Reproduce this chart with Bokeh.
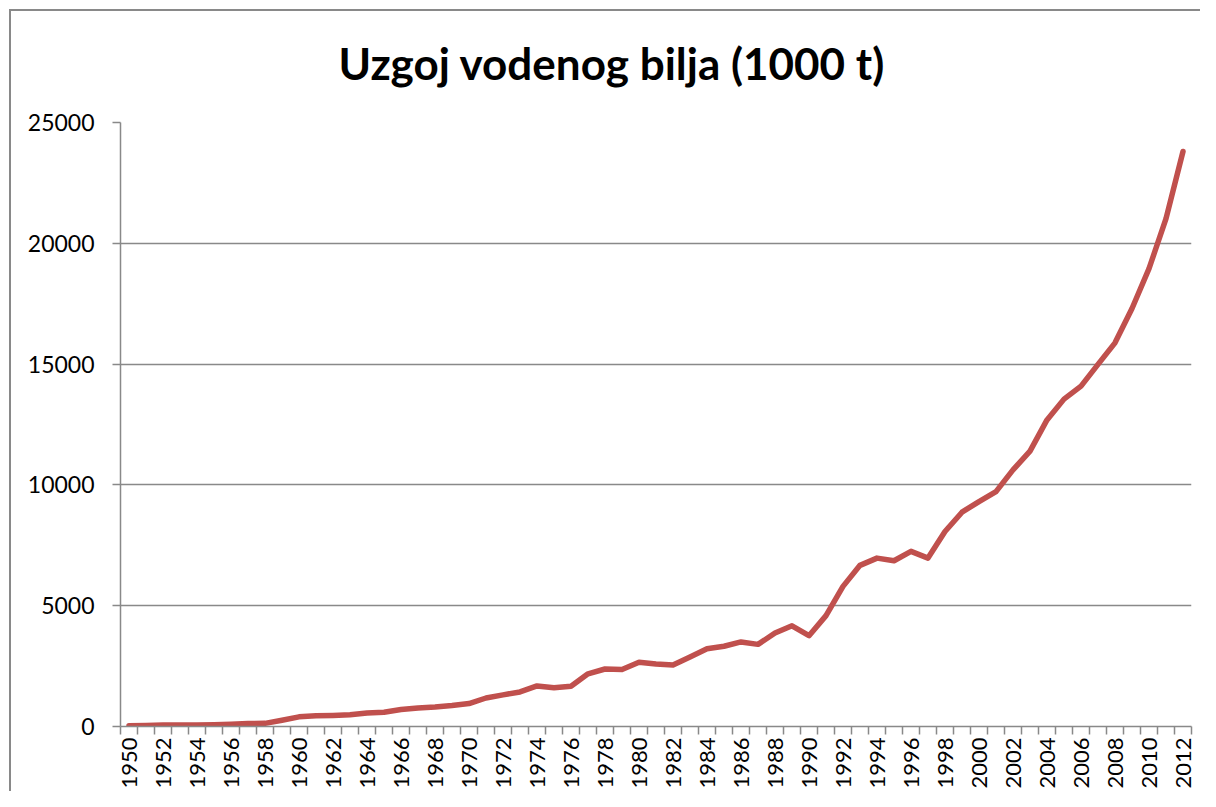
import math
from bokeh.plotting import figure
from bokeh.models import Range1d, FixedTicker
from bokeh.embed import file_html
from bokeh.resources import INLINE

title_text = "Uzgoj vodenog bilja (1000 t)"
years = list(range(1950, 2013))
values = [30, 40, 60, 60, 60, 70, 90, 120, 130, 260,
          400, 440, 460, 490, 560, 590, 700, 770, 810, 870,
          950, 1180, 1310, 1430, 1680, 1600, 1670, 2180, 2380, 2360,
          2660, 2590, 2550, 2880, 3220, 3320, 3500, 3400, 3870, 4170,
          3760, 4590, 5800, 6670, 6970, 6860, 7250, 6970, 8070, 8870,
          9310, 9720, 10620, 11400, 12690, 13550, 14090, 14990, 15880, 17300,
          18950, 21020, 23800]
y_ticks = [0, 5000, 10000, 15000, 20000, 25000]
x_label_years = years[::2]

GREY = "#898989"
FONT = "Lato"

W, H = 1200, 791
p = figure(width=W, height=H, output_backend="svg", toolbar_location=None,
           x_range=Range1d(years[0] - 0.5, years[-1] + 0.5),
           y_range=Range1d(y_ticks[0], y_ticks[-1]),
           min_border_left=120, min_border_top=122,
           min_border_right=W - 1191, min_border_bottom=H - 727)
p.outline_line_color = None
p.background_fill_color = "white"
p.border_fill_color = None

p.title.text = title_text
p.title.text_font = FONT
p.title.text_font_style = "bold"
p.title.text_font_size = "44px"
p.title.text_color = "black"
p.title.align = "left"
p.title.offset = 218
p.title.vertical_align = "top"
p.title.standoff = 64

p.line(years, values, line_color="#C0504D", line_width=5.5,
       line_join="round", line_cap="round")

# y axis
p.yaxis.ticker = FixedTicker(ticks=y_ticks)
p.yaxis.axis_line_color = GREY
p.yaxis.axis_line_width = 1.5
p.yaxis.major_tick_line_color = GREY
p.yaxis.major_tick_line_width = 1.5
p.yaxis.major_tick_out = 8
p.yaxis.major_tick_in = 0
p.yaxis.minor_tick_line_color = None
p.yaxis.major_label_standoff = 18
p.yaxis.major_label_text_font = FONT
p.yaxis.major_label_text_font_size = "23px"
p.yaxis.major_label_text_color = "black"

# x axis
p.xaxis.ticker = FixedTicker(ticks=x_label_years,
                             minor_ticks=[y - 0.5 for y in years] + [years[-1] + 0.5])
p.xaxis.axis_line_color = GREY
p.xaxis.axis_line_width = 1.5
p.xaxis.major_tick_line_color = None
p.xaxis.major_tick_out = 0
p.xaxis.major_tick_in = 0
p.xaxis.minor_tick_line_color = GREY
p.xaxis.minor_tick_line_width = 1.5
p.xaxis.minor_tick_out = 8
p.xaxis.minor_tick_in = 0
p.xaxis.major_label_orientation = math.pi / 2
p.xaxis.major_label_standoff = 3
p.xaxis.major_label_text_font = FONT
p.xaxis.major_label_text_font_size = "22px"
p.xaxis.major_label_text_color = "black"

p.xgrid.grid_line_color = None
p.ygrid.ticker = FixedTicker(ticks=y_ticks)
p.ygrid.grid_line_color = GREY
p.ygrid.grid_line_width = 1.3

p.styles = {"background-color": "white",
            "box-shadow": "inset 9px 9px 0 0 white, inset 11px 11px 0 0 #898989"}

open("out.html", "w").write(file_html(p, INLINE))
